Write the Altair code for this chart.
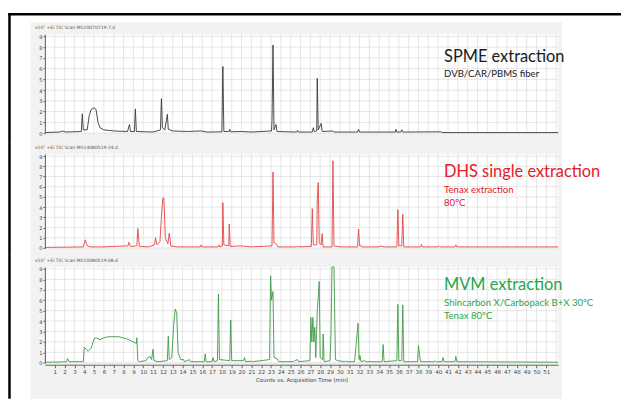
import altair as alt
import pandas as pd

# ---------------- data ----------------
SPME_T = [0.0, 1.5, 1.8, 2.1, 3.7, 3.8, 3.9, 4.3, 4.5, 4.7, 5.0, 5.2, 5.4, 5.6, 6.0, 7.0,
          8.4, 8.6, 8.7, 9.1, 9.2, 9.3, 11.0, 11.75, 11.85, 11.95, 12.2, 12.45, 12.55, 13.0,
          14.5, 15.9, 16.5, 18.0, 18.1, 18.2, 18.75, 18.8, 18.9, 20.0, 21.0, 23.05, 23.1,
          23.2, 23.3, 23.5, 23.6, 25.6, 25.7, 25.8, 27.2, 27.3, 27.4, 27.65, 27.7, 27.8,
          28.1, 28.2, 29.3, 29.4, 31.8, 31.9, 32.0, 35.65, 35.7, 35.8, 36.2, 36.3, 36.4,
          40.3, 40.4, 52.2]
SPME_V = [0.05, 0.1, 0.2, 0.1, 0.15, 1.8, 0.3, 0.3, 1.6, 2.2, 2.35, 2.2, 1.0, 0.5, 0.3, 0.2,
          0.15, 0.8, 0.15, 0.15, 2.25, 0.15, 0.1, 0.3, 3.2, 0.5, 0.3, 1.75, 0.35, 0.2,
          0.15, 0.2, 0.1, 0.12, 6.2, 0.15, 0.15, 0.35, 0.12, 0.15, 0.1, 0.2, 1.2,
          8.2, 0.3, 0.8, 0.15, 0.1, 0.25, 0.1, 0.1, 0.5, 0.15, 0.2, 5.1, 0.3,
          0.9, 0.15, 0.2, 0.1, 0.1, 0.35, 0.1, 0.1, 0.35, 0.1, 0.1, 0.3, 0.1,
          0.12, 0.05, 0.05]

DHS_T = [0.0, 3.9, 4.1, 4.3, 4.6, 6.0, 7.0, 8.45, 8.55, 8.7, 9.35, 9.45, 9.6, 10.5, 11.15,
         11.25, 11.4, 11.7, 11.85, 12.0, 12.1, 12.25, 12.5, 12.65, 12.8, 13.5, 15.8, 15.9,
         16.0, 17.6, 17.7, 17.8, 18.05, 18.1, 18.2, 18.7, 18.75, 18.85, 20.0, 21.0, 23.1,
         23.2, 23.3, 23.5, 23.7, 25.6, 25.7, 25.8, 27.1, 27.2, 27.3, 27.65, 27.7, 27.8,
         27.9, 28.1, 28.2, 28.3, 29.2, 29.3, 29.4, 30.0, 31.8, 31.9, 32.0, 32.1, 32.2,
         34.0, 34.1, 34.5, 35.8, 35.9, 36.0, 36.3, 36.4, 36.5, 38.2, 38.3, 38.4, 40.0,
         40.1, 40.2, 41.7, 41.8, 41.9, 52.2]
DHS_V = [0.05, 0.1, 0.8, 0.2, 0.1, 0.1, 0.15, 0.2, 0.55, 0.15, 0.2, 1.9, 0.15, 0.1, 0.3,
         1.0, 0.3, 0.6, 3.1, 4.9, 4.9, 1.0, 0.4, 1.45, 0.2, 0.1, 0.1, 0.3,
         0.1, 0.1, 0.3, 0.1, 0.2, 4.45, 0.3, 0.2, 2.35, 0.15, 0.2, 0.1, 0.2,
         7.45, 0.5, 0.4, 0.1, 0.1, 0.2, 0.1, 0.15, 3.85, 0.3, 0.3, 4.7, 6.4,
         0.5, 0.3, 1.4, 0.1, 0.1, 8.55, 0.2, 0.1, 0.1, 1.85, 0.2, 0.3, 0.1,
         0.1, 0.2, 0.1, 0.1, 3.75, 0.2, 0.2, 3.3, 0.1, 0.1, 0.35, 0.1, 0.1,
         0.2, 0.1, 0.1, 0.3, 0.1, 0.1]

MVM_T = [0.0, 0.75, 0.8, 0.9, 2.2, 2.3, 2.45, 3.9, 4.0, 4.2, 4.4, 4.7, 5.0, 5.2, 5.6, 6.0,
         6.5, 7.5, 8.3, 9.2, 9.3, 9.35, 9.45, 9.6, 10.3, 10.4, 10.7, 10.85, 11.0, 11.1,
         11.5, 12.45, 12.55, 12.65, 12.9, 13.1, 13.25, 13.4, 13.55, 13.8, 14.1, 14.2,
         14.7, 14.8, 16.2, 16.3, 16.4, 17.0, 17.1, 17.2, 17.55, 17.65, 17.75, 18.8, 18.9,
         19.0, 20.2, 20.3, 20.4, 21.0, 21.1, 22.85, 22.95, 23.05, 23.2, 23.3, 23.6, 23.8,
         25.3, 25.4, 25.7, 25.8, 26.95, 27.05, 27.15, 27.25, 27.35, 27.45, 27.55, 27.7,
         27.9, 28.0, 28.25, 28.3, 28.4, 29.0, 29.1, 29.2, 29.4, 29.55, 29.8, 30.5, 30.6,
         30.7, 31.5, 31.85, 31.95, 32.05, 32.15, 32.5, 32.7, 34.3, 34.4, 34.5, 35.8, 35.9,
         36.0, 36.3, 36.4, 36.5, 37.9, 38.0, 38.1, 38.2, 39.6, 39.7, 39.8, 40.4, 40.5,
         40.6, 41.7, 41.8, 41.9, 52.2]
MVM_V = [0.05, 0.05, 0.12, 0.05, 0.1, 0.4, 0.1, 0.1, 1.5, 1.3, 1.1, 1.4, 2.3, 2.4, 2.2, 2.4,
         2.5, 2.5, 2.3, 1.9, 1.85, 2.4, 0.2, 0.1, 0.2, 0.45, 0.6, 0.3, 1.3, 0.2,
         0.1, 0.2, 2.55, 0.3, 0.5, 3.6, 5.15, 4.8, 1.0, 0.3, 0.3, 0.1,
         0.3, 0.1, 0.1, 0.85, 0.1, 0.1, 0.5, 0.1, 0.2, 6.6, 0.3, 0.2, 4.1,
         0.2, 0.2, 0.5, 0.1, 0.15, 0.1, 0.3, 8.35, 6.0, 6.85, 0.5, 0.4, 0.1,
         0.1, 0.2, 0.3, 0.1, 0.2, 4.35, 2.0, 4.35, 2.0, 3.4, 0.5, 4.9,
         7.8, 0.5, 0.3, 2.75, 0.1, 0.2, 2.8, 9.2, 9.2, 0.3, 0.2, 0.1, 0.2,
         0.1, 0.1, 3.8, 0.3, 0.7, 0.1, 0.2, 0.1, 0.1, 1.75, 0.1, 0.2, 5.6,
         0.2, 0.2, 5.55, 0.1, 0.1, 1.65, 0.8, 0.1, 0.1, 0.2, 0.1, 0.1, 0.5,
         0.1, 0.1, 0.6, 0.1, 0.05]

HEADERS = ["x10\u2077  +EI TIC Scan MS20070719-7.d",
           "x10\u2077  +EI TIC Scan MS14080519-24.d",
           "x10\u2077  +EI TIC Scan MS10080519-08.d"]

LABELS_1 = ["SPME extraction", "DVB/CAR/PBMS fiber"]
LABELS_2 = ["DHS single extraction", "Tenax extraction", "80\u00baC"]
LABELS_3 = ["MVM extraction", "Shincarbon X/Carbopack B+X 30\u00baC", "Tenax 80\u00baC"]
LABEL_T = 40.6
LABEL_V_1 = [6.6, 5.2]
LABEL_V_2 = [6.95, 5.38, 4.11]
LABEL_V_3 = [7.0, 5.46, 4.21]
LABEL_SIZES_1 = [16.4, 9.6]
LABEL_SIZES_23 = [16.4, 9.6, 9.6]

GRID_T = list(range(0, 53))
GRID_V = list(range(0, 10))
TICK_T = list(range(1, 52))
TICK_V = list(range(0, 10))

# ---------------- layout / style ----------------
W = 514
HEIGHTS = [99, 94, 96]
BOTTOMS = [9, 7, 36]
X_DOMAIN = [0, 52.2]
Y_DOMAIN = [0, 9.2]
FONT = "Lato"
GREY = "#f2f2f2"
GRID = "#e0e0e0"
FRAME_X = -35.5


def panel(times, values, line_color, text_color, header, labels, label_v, sizes,
          h, bottom, first=False, last=False):
    xs = alt.Scale(domain=X_DOMAIN, nice=False, zero=False)
    ys = alt.Scale(domain=Y_DOMAIN, nice=False)
    if last:
        xaxis = alt.Axis(values=TICK_T, grid=False, labelFontSize=5.5, labelColor="#444",
                         tickSize=3, tickColor="#666", domainColor="#666", labelPadding=2,
                         offset=2, title="Counts vs. Acquisition Time (min)",
                         titleFontSize=5.5, titleFontWeight="normal", titleColor="#444",
                         titlePadding=2, labelFont="DejaVu Sans", titleFont="DejaVu Sans",
                         zindex=1)
    else:
        xaxis = None
    yaxis = alt.Axis(values=TICK_V, grid=False, labelFontSize=5, labelColor="#444",
                     tickSize=2, tickColor="#666", domainColor="#666", labelPadding=1,
                     title=None, labelFont="DejaVu Sans", zindex=1)

    one = alt.Data(values=[{"k": 0}])
    top = -21.25 if first else -12

    grey = alt.Chart(one).mark_rect(color=GREY).encode(
        x=alt.value(-14.5), x2=alt.value(W + 4), y=alt.value(-12), y2=alt.value(h + bottom))
    white = alt.Chart(one).mark_rect(color="white").encode(
        x=alt.value(0), x2=alt.value(W), y=alt.value(0), y2=alt.value(h))
    frame_left = alt.Chart(one).mark_rect(color="black").encode(
        x=alt.value(FRAME_X - 1.25), x2=alt.value(FRAME_X + 1.25),
        y=alt.value(top), y2=alt.value(h + bottom))

    gx = alt.Chart(pd.DataFrame({"t": GRID_T})).mark_rule(color=GRID, strokeWidth=0.8).encode(
        x=alt.X("t:Q", scale=xs, axis=xaxis), y=alt.value(0), y2=alt.value(h))
    gy = alt.Chart(pd.DataFrame({"v": GRID_V})).mark_rule(color=GRID, strokeWidth=0.8).encode(
        y=alt.Y("v:Q", scale=ys, axis=yaxis), x=alt.value(0), x2=alt.value(W))

    line = alt.Chart(pd.DataFrame({"t": times, "v": values})).mark_line(
        color=line_color, strokeWidth=0.9).encode(
        x=alt.X("t:Q", scale=xs, axis=xaxis),
        y=alt.Y("v:Q", scale=ys, axis=yaxis))

    head = alt.Chart(one).mark_text(align="left", baseline="middle", fontSize=4.5,
                                    color="#555", font="DejaVu Sans").encode(
        x=alt.value(-10), y=alt.value(-6), text=alt.value(header))

    ann = alt.Chart(pd.DataFrame({"label": labels, "t": [LABEL_T] * len(labels),
                                  "v": label_v, "s": sizes})).mark_text(
        align="left", baseline="alphabetic", font=FONT, color=text_color).encode(
        x=alt.X("t:Q", scale=xs, axis=xaxis),
        y=alt.Y("v:Q", scale=ys, axis=yaxis),
        size=alt.Size("s:Q", scale=None, legend=None),
        text="label:N")

    layers = [grey, white, frame_left]
    if first:
        frame_top = alt.Chart(one).mark_rect(color="black").encode(
            x=alt.value(FRAME_X - 1.25), x2=alt.value(577),
            y=alt.value(top), y2=alt.value(top + 2.5))
        layers.append(frame_top)
    layers += [gx, gy, line, head, ann]
    return alt.layer(*layers).properties(width=W, height=h)


p1 = panel(SPME_T, SPME_V, "#3a3a3a", "#1a1a1a", HEADERS[0], LABELS_1, LABEL_V_1,
           LABEL_SIZES_1, HEIGHTS[0], BOTTOMS[0], first=True)
p2 = panel(DHS_T, DHS_V, "#e04848", "#e3202a", HEADERS[1], LABELS_2, LABEL_V_2,
           LABEL_SIZES_23, HEIGHTS[1], BOTTOMS[1])
p3 = panel(MVM_T, MVM_V, "#3f9a45", "#25a650", HEADERS[2], LABELS_3, LABEL_V_3,
           LABEL_SIZES_23, HEIGHTS[2], BOTTOMS[2], last=True)

chart = alt.vconcat(p1, p2, p3, spacing=0).properties(
    padding={"left": 8, "top": 12, "right": 0, "bottom": 0},
    background="white",
).configure_view(stroke=None)

chart.save("out.html", embed_options={"renderer": "svg", "actions": False})
